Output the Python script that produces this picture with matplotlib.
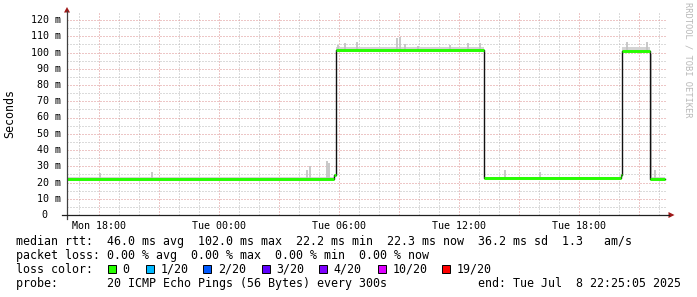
import matplotlib.pyplot as plt
from matplotlib.lines import Line2D
from matplotlib.patches import Polygon, Rectangle

W, H = 697, 297

# hours since Mon 00:00 / milliseconds
seg_start = [16.42, 29.78, 29.85, 37.29, 44.10, 44.17, 45.57]
seg_end = [29.78, 29.85, 37.29, 44.10, 44.17, 45.57, 46.32]
seg_median = [22.3, 24.5, 101.3, 22.5, 24.5, 101.0, 22.3]
seg_smoke = [23.3, 25.0, 103.6, 23.5, 25.0, 103.2, 23.3]

spike_h = [18.07, 20.67, 28.42, 28.57, 29.42, 29.52, 29.97, 30.32, 30.92, 32.92,
           33.07, 33.32, 33.97, 35.57, 36.47, 37.07, 38.30, 40.07, 44.42, 45.42,
           45.62, 45.82]
spike_lo = [22.3, 22.3, 22.3, 22.3, 22.3, 22.3, 101.3, 101.3, 101.3, 101.3,
            101.3, 101.3, 101.3, 101.3, 101.3, 101.3, 22.5, 22.5, 101.0, 101.0,
            22.5, 22.3]
spike_hi = [26.0, 26.5, 27.5, 30.0, 33.0, 32.0, 104.6, 106.0, 106.6, 109.0,
            109.7, 105.0, 104.0, 104.6, 106.0, 106.0, 27.7, 26.5, 106.5, 106.6,
            99.0, 28.0]

xtick_h = [18, 24, 30, 36, 42]
xtick_lbl = ["Mon 18:00", "Tue 00:00", "Tue 06:00", "Tue 12:00", "Tue 18:00"]
ytick_ms = list(range(0, 121, 10))

loss_lbl = ["0", "1/20", "2/20", "3/20", "4/20", "10/20", "19/20"]
loss_col = ["#26ff00", "#00b8ff", "#0059ff", "#5e00ff", "#7e00ff", "#dd00ff", "#ff0000"]
loss_box_x = [108, 146, 203, 261.5, 319, 377.5, 442]

line_rtt = "median rtt:  46.0 ms avg  102.0 ms max  22.2 ms min  22.3 ms now  36.2 ms sd  1.3   am/s"
line_loss = "packet loss: 0.00 % avg  0.00 % max  0.00 % min  0.00 % now"
line_probe = "probe:       20 ICMP Echo Pings (56 Bytes) every 300s"
line_end = "end: Tue Jul  8 22:25:05 2025"

MONO = "DejaVu Sans Mono"
GREEN = "#26ff00"


def fx(x):
    return x / W


def fy(y):
    return 1 - y / H


fig = plt.figure(figsize=(W / 100, H / 100), dpi=100)
fig.patch.set_facecolor("white")

# plot area: x 67..667 px, y 13..215 px ; 0 ms at 215, 1.625 px per ms
ax = fig.add_axes([fx(67), fy(215), 600 / W, 202 / H])
ax.set_xlim(16.418, 46.418)
ax.set_ylim(0, 202 / 1.625)
for s in ax.spines.values():
    s.set_visible(False)
ax.set_xticks([])
ax.set_yticks([])

# grid (dotted)
for h in range(17, 47):
    major = h % 3 == 0
    ax.axvline(h, color="#dc8e8e" if major else "#b8b8b8", lw=0.72,
               ls=(0, (1, 2)), zorder=0)
for v in range(5, 125, 5):
    major = v % 10 == 0
    ax.axhline(v, color="#dc8e8e" if major else "#b8b8b8", lw=0.72,
               ls=(0, (1, 2)), zorder=0)

# smoke
for s, e, m, t in zip(seg_start, seg_end, seg_median, seg_smoke):
    ax.fill_between([s, e], m, t, color="#d4d4d4", lw=0, zorder=1)
ax.vlines(spike_h, spike_lo, spike_hi, color="#c4c4c4", lw=1.3, zorder=1)

# median line
xs, ys = [], []
for s, e, m in zip(seg_start, seg_end, seg_median):
    xs += [s, e]
    ys += [m, m]
ax.plot(xs, ys, color="#111111", lw=1.0, zorder=2)
ax.hlines(seg_median, seg_start, seg_end, color=GREEN, lw=2.1, zorder=3,
          capstyle="butt")

# tick labels
for h, lbl in zip(xtick_h, xtick_lbl):
    fig.text(fx(67 + (h - 16.418) * 20), fy(221), lbl, ha="center", va="top",
             family=MONO, fontsize=7.2)
for v in ytick_ms:
    if v == 0:
        fig.text(fx(47.5), fy(215 - v * 1.625), "0", ha="right", va="center",
                 family=MONO, fontsize=7.2)
    else:
        fig.text(fx(60.5), fy(215 - v * 1.625), f"{v} m", ha="right", va="center",
                 family=MONO, fontsize=7.2)

# axes lines and arrows
fig.add_artist(Line2D([fx(67), fx(67)], [fy(219), fy(11)], color="#404040", lw=0.9))
fig.add_artist(Line2D([fx(62), fx(669)], [fy(215), fy(215)], color="#202020", lw=0.9))
fig.add_artist(Polygon([(fx(64), fy(12.5)), (fx(70), fy(12.5)), (fx(67), fy(7))],
                       closed=True, color="#a01818", lw=0))
fig.add_artist(Polygon([(fx(668.5), fy(212)), (fx(668.5), fy(218)), (fx(674.5), fy(215))],
                       closed=True, color="#a01818", lw=0))

# labels
fig.text(fx(10), fy(114), "Seconds", rotation=90, ha="center", va="center",
         family=MONO, fontsize=8.35)
fig.text(fx(688), fy(60), "RRDTOOL / TOBI OETIKER", rotation=270, ha="center",
         va="center", family=MONO, fontsize=6.3, color="#b8b8b8")

# legend
fig.text(fx(16), fy(245), line_rtt, family=MONO, fontsize=8.35, va="baseline")
fig.text(fx(16), fy(259), line_loss, family=MONO, fontsize=8.35, va="baseline")
fig.text(fx(16), fy(273), "loss color:", family=MONO, fontsize=8.35, va="baseline")
for bx, lbl, c in zip(loss_box_x, loss_lbl, loss_col):
    fig.add_artist(Rectangle((fx(bx), fy(273)), 8 / W, 8 / H, facecolor=c,
                             edgecolor="black", lw=0.7))
    fig.text(fx(bx + 14.7), fy(273), lbl, family=MONO, fontsize=8.35, va="baseline")
fig.text(fx(16), fy(287), line_probe, family=MONO, fontsize=8.35, va="baseline")
fig.text(fx(478), fy(287), line_end, family=MONO, fontsize=8.35, va="baseline")

fig.savefig("out.png", dpi=100, facecolor="white")
